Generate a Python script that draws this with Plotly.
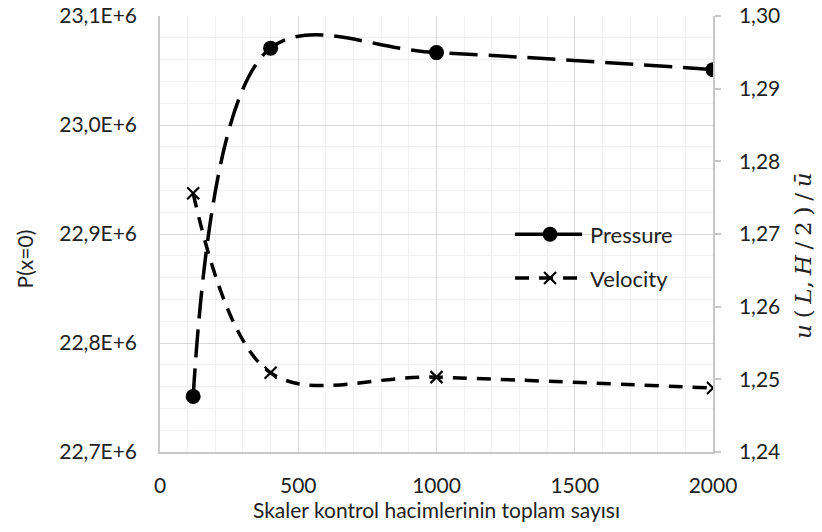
import plotly.graph_objects as go

# Mesh study: total number of scalar control volumes
cells = [120, 400, 1000, 2000]
pressure = [22.751e6, 23.0705e6, 23.0664e6, 23.0508e6]   # P(x=0)
velocity = [1.2756, 1.2509, 1.2503, 1.2488]              # u(L,H/2)/u_mean

p_ticks = [22.7e6, 22.8e6, 22.9e6, 23.0e6, 23.1e6]
p_ticktext = [f"{v / 1e6:.1f}".replace(".", ",") + "E+6" for v in p_ticks]

FONT = "Lato, Carlito, Calibri, sans-serif"
GRID = "#d9d9d9"
MINOR = "#f0f0f0"
AXIS = "#c8c8c8"
SP = "\u2005"  # narrow space for the math-style axis title

fig = go.Figure()

fig.add_trace(go.Scatter(
    x=cells, y=pressure, name="Pressure", mode="lines+markers",
    legendgroup="p",
    line=dict(color="black", width=3.5, shape="spline", smoothing=1, dash="28px,11px"),
    marker=dict(symbol="circle", size=15, color="black"),
    yaxis="y",
))

fig.add_trace(go.Scatter(
    x=cells, y=velocity, name="Velocity", mode="lines+markers",
    legendgroup="v",
    line=dict(color="black", width=3.5, shape="spline", smoothing=1, dash="14px,10px"),
    marker=dict(symbol="x-thin", size=12, color="black",
                line=dict(color="black", width=2.2)),
    yaxis="y2",
))

u_title = (f"<i>u</i>{SP}({SP}<i>L</i>,{SP}<i>H</i>{SP}/{SP}2{SP}){SP}/{SP}<i>ū</i>")

fig.update_layout(
    width=822, height=532,
    margin=dict(l=160, r=109, t=16, b=80, autoexpand=False),
    paper_bgcolor="white", plot_bgcolor="white",
    font=dict(family=FONT, size=21, color="#222222"),
    separators=",.",
    showlegend=True,
    legend=dict(
        x=0.633, y=0.547, xanchor="left", yanchor="top",
        bgcolor="rgba(255,255,255,0)", font=dict(size=22, family=FONT),
        traceorder="grouped", tracegroupgap=12, itemwidth=70,
    ),
    xaxis=dict(
        range=[0, 2000], dtick=500, tick0=0, automargin=False,
        showgrid=True, gridcolor=GRID, gridwidth=1,
        minor=dict(dtick=100, showgrid=True, gridcolor=MINOR, gridwidth=1),
        showline=True, linecolor=AXIS, linewidth=1.5,
        ticks="", zeroline=False, ticklabelstandoff=14,
        title=dict(text="Skaler kontrol hacimlerinin toplam sayısı",
                   font=dict(size=21), standoff=2),
    ),
    yaxis=dict(
        range=[22.7e6, 23.1e6], tickvals=p_ticks, ticktext=p_ticktext,
        automargin=False,
        showgrid=True, gridcolor=GRID, gridwidth=1,
        minor=dict(dtick=0.02e6, showgrid=True, gridcolor=MINOR, gridwidth=1),
        showline=True, linecolor=AXIS, linewidth=1.5,
        ticks="", zeroline=False, ticklabelstandoff=17,
    ),
    yaxis2=dict(
        range=[1.24, 1.30], dtick=0.01, tick0=1.24, tickformat=".2f",
        overlaying="y", side="right", showgrid=False, automargin=False,
        showline=True, linecolor=AXIS, linewidth=1.5,
        ticks="outside", ticklen=6, tickcolor=AXIS, tickwidth=1.5,
        zeroline=False, ticklabelstandoff=14,
    ),
    annotations=[
        dict(text="P(x=0)", xref="paper", yref="paper",
             x=-0.246, y=0.444, xanchor="center", yanchor="middle",
             textangle=-90, showarrow=False, font=dict(size=21, family=FONT)),
        dict(text=u_title, xref="paper", yref="paper",
             x=1.163, y=0.45, xanchor="center", yanchor="middle",
             textangle=-90, showarrow=False, borderpad=0,
             font=dict(family="DejaVu Serif, Liberation Serif, serif", size=23)),
    ],
)

fig.write_html("out.html")
